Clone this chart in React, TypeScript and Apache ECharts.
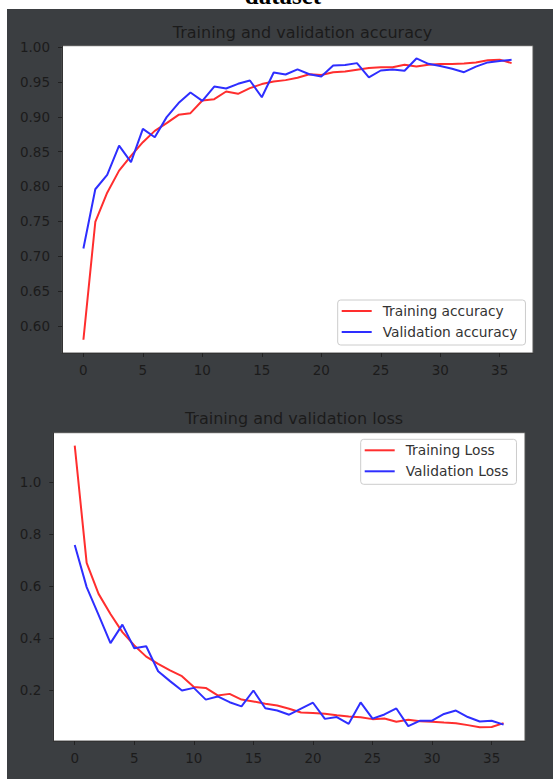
import React, { useEffect, useRef } from "react";
import * as echarts from "echarts";

const epochs = Array.from({ length: 37 }, (_, i) => i);

const trainAcc = [
  0.580, 0.749, 0.791, 0.8227, 0.8439, 0.8635, 0.8798, 0.8908, 0.9028, 0.9052,
  0.9233, 0.9253, 0.9363, 0.933, 0.9411, 0.9469, 0.9506, 0.9526, 0.956, 0.961,
  0.9600, 0.964, 0.965, 0.9675, 0.970, 0.971, 0.971, 0.9746, 0.972, 0.9746,
  0.9756, 0.9756, 0.9765, 0.978, 0.981, 0.982, 0.977,
];
const valAcc = [
  0.711, 0.796, 0.8166, 0.8587, 0.835, 0.8827, 0.8707, 0.8995, 0.9196, 0.9348,
  0.9229, 0.9434, 0.9406, 0.9473, 0.952, 0.928, 0.9636, 0.9607, 0.968, 0.961,
  0.9578, 0.9736, 0.9742, 0.977, 0.9564, 0.9664, 0.968, 0.966, 0.9837, 0.976,
  0.973, 0.969, 0.964, 0.972, 0.978, 0.980, 0.9818,
];
const trainLoss = [
  1.1405, 0.690, 0.571, 0.494, 0.424, 0.373, 0.330, 0.302, 0.277, 0.255,
  0.213, 0.210, 0.181, 0.187, 0.165, 0.158, 0.149, 0.142, 0.130, 0.1155,
  0.114, 0.1105, 0.105, 0.100, 0.0975, 0.090, 0.0925, 0.080, 0.0875, 0.082,
  0.080, 0.077, 0.0745, 0.067, 0.059, 0.060, 0.0745,
];
const valLoss = [
  0.759, 0.597, 0.49, 0.382, 0.453, 0.362, 0.370, 0.274, 0.236, 0.200,
  0.210, 0.165, 0.177, 0.155, 0.139, 0.200, 0.132, 0.123, 0.107, 0.130,
  0.153, 0.091, 0.098, 0.072, 0.154, 0.092, 0.108, 0.131, 0.063, 0.084,
  0.084, 0.110, 0.123, 0.098, 0.081, 0.084, 0.069,
];

const xTicks = [0, 5, 10, 15, 20, 25, 30, 35];
const accTicks = [0.6, 0.65, 0.7, 0.75, 0.8, 0.85, 0.9, 0.95, 1.0];
const lossTicks = [0.2, 0.4, 0.6, 0.8, 1.0];

const FONT = "DejaVu Sans";
const TXT = "#1b1b1b";
const RED = "#ff2e2e";
const BLUE = "#2e2eff";

const pairs = (ys: number[]) => epochs.map((x, i) => [x, ys[i]]);

export default function App() {
  const ref = useRef<HTMLDivElement>(null);
  useEffect(() => {
    if (!ref.current) return;
    const chart = echarts.init(ref.current, undefined, { renderer: "svg" });
    const xAxisBase = (gridIndex: number) => ({
      type: "value" as const,
      gridIndex,
      min: -1.8,
      max: 37.8,
      splitLine: { show: false },
      axisLine: { show: true, onZero: false, lineStyle: { color: "#333", width: 1 } },
      axisTick: { show: true, length: 4, customValues: xTicks, lineStyle: { color: "#222" } },
      axisLabel: {
        customValues: xTicks,
        color: TXT,
        fontFamily: FONT,
        fontSize: 13.5,
        margin: 10,
      },
    });
    const legendBase = {
      orient: "vertical" as const,
      icon: "rect",
      itemWidth: 30,
      itemHeight: 2,
      itemGap: 7,
      padding: [4, 8, 6, 4],
      borderColor: "#cccccc",
      borderWidth: 1,
      borderRadius: 3,
      backgroundColor: "rgba(255,255,255,0.85)",
      textStyle: { color: "#333", fontFamily: FONT, fontSize: 13.8, padding: [0, 0, 0, 6] },
    };
    chart.setOption({
      animation: false,
      backgroundColor: "transparent",
      graphic: [
        {
          type: "text",
          x: 283,
          y: 8,
          style: {
            text: "dataset",
            font: 'bold 25px "Liberation Serif"',
            fill: "#000",
            textAlign: "center",
            textVerticalAlign: "bottom",
          },
        },
      ],
      title: [
        {
          text: "Training and validation accuracy",
          left: 297.5,
          top: 19,
          textAlign: "center",
          textStyle: { color: TXT, fontFamily: FONT, fontSize: 16, fontWeight: "normal" },
        },
        {
          text: "Training and validation loss",
          left: 289,
          top: 405,
          textAlign: "center",
          textStyle: { color: TXT, fontFamily: FONT, fontSize: 16, fontWeight: "normal" },
        },
      ],
      legend: [
        { ...legendBase, left: 337.7, top: 300, data: ["Training accuracy", "Validation accuracy"] },
        { ...legendBase, left: 360.7, top: 439.3, data: ["Training Loss", "Validation Loss"] },
      ],
      grid: [
        {
          left: 62, top: 45.7, width: 471, height: 307.3,
          show: true, backgroundColor: "#ffffff", borderColor: "#555", borderWidth: 1,
        },
        {
          left: 53.3, top: 432.7, width: 471.7, height: 308.3,
          show: true, backgroundColor: "#ffffff", borderColor: "#555", borderWidth: 1,
        },
      ],
      xAxis: [xAxisBase(0), xAxisBase(1)],
      yAxis: [
        {
          type: "value",
          gridIndex: 0,
          min: 0.561,
          max: 1.002,
          splitLine: { show: false },
          axisLine: { show: true, onZero: false, lineStyle: { color: "#333" } },
          axisTick: { show: true, length: 4, customValues: accTicks, lineStyle: { color: "#222" } },
          axisLabel: {
            customValues: accTicks,
            formatter: (v: number) => v.toFixed(2),
            color: TXT,
            fontFamily: FONT,
            fontSize: 13.5,
            margin: 12,
          },
        },
        {
          type: "value",
          gridIndex: 1,
          min: 0.006,
          max: 1.19,
          splitLine: { show: false },
          axisLine: { show: true, onZero: false, lineStyle: { color: "#333" } },
          axisTick: { show: true, length: 4, customValues: lossTicks, lineStyle: { color: "#222" } },
          axisLabel: {
            customValues: lossTicks,
            formatter: (v: number) => v.toFixed(1),
            color: TXT,
            fontFamily: FONT,
            fontSize: 13.5,
            margin: 12,
          },
        },
      ],
      series: [
        {
          name: "Training accuracy", type: "line", xAxisIndex: 0, yAxisIndex: 0,
          data: pairs(trainAcc), showSymbol: false, symbol: "none",
          lineStyle: { color: RED, width: 2 }, itemStyle: { color: RED },
        },
        {
          name: "Validation accuracy", type: "line", xAxisIndex: 0, yAxisIndex: 0,
          data: pairs(valAcc), showSymbol: false, symbol: "none",
          lineStyle: { color: BLUE, width: 2 }, itemStyle: { color: BLUE },
        },
        {
          name: "Training Loss", type: "line", xAxisIndex: 1, yAxisIndex: 1,
          data: pairs(trainLoss), showSymbol: false, symbol: "none",
          lineStyle: { color: RED, width: 2 }, itemStyle: { color: RED },
        },
        {
          name: "Validation Loss", type: "line", xAxisIndex: 1, yAxisIndex: 1,
          data: pairs(valLoss), showSymbol: false, symbol: "none",
          lineStyle: { color: BLUE, width: 2 }, itemStyle: { color: BLUE },
        },
      ],
    });
    return () => chart.dispose();
  }, []);
  return (
    <div style={{ position: "fixed", left: 0, top: 0, width: 553, height: 779, background: "#ffffff" }}>
      <div style={{ position: "absolute", left: 7, top: 9, width: 546, height: 770, background: "#3b3e41" }} />
      <div ref={ref} style={{ position: "absolute", left: 0, top: 0, width: 553, height: 779 }} />
    </div>
  );
}
